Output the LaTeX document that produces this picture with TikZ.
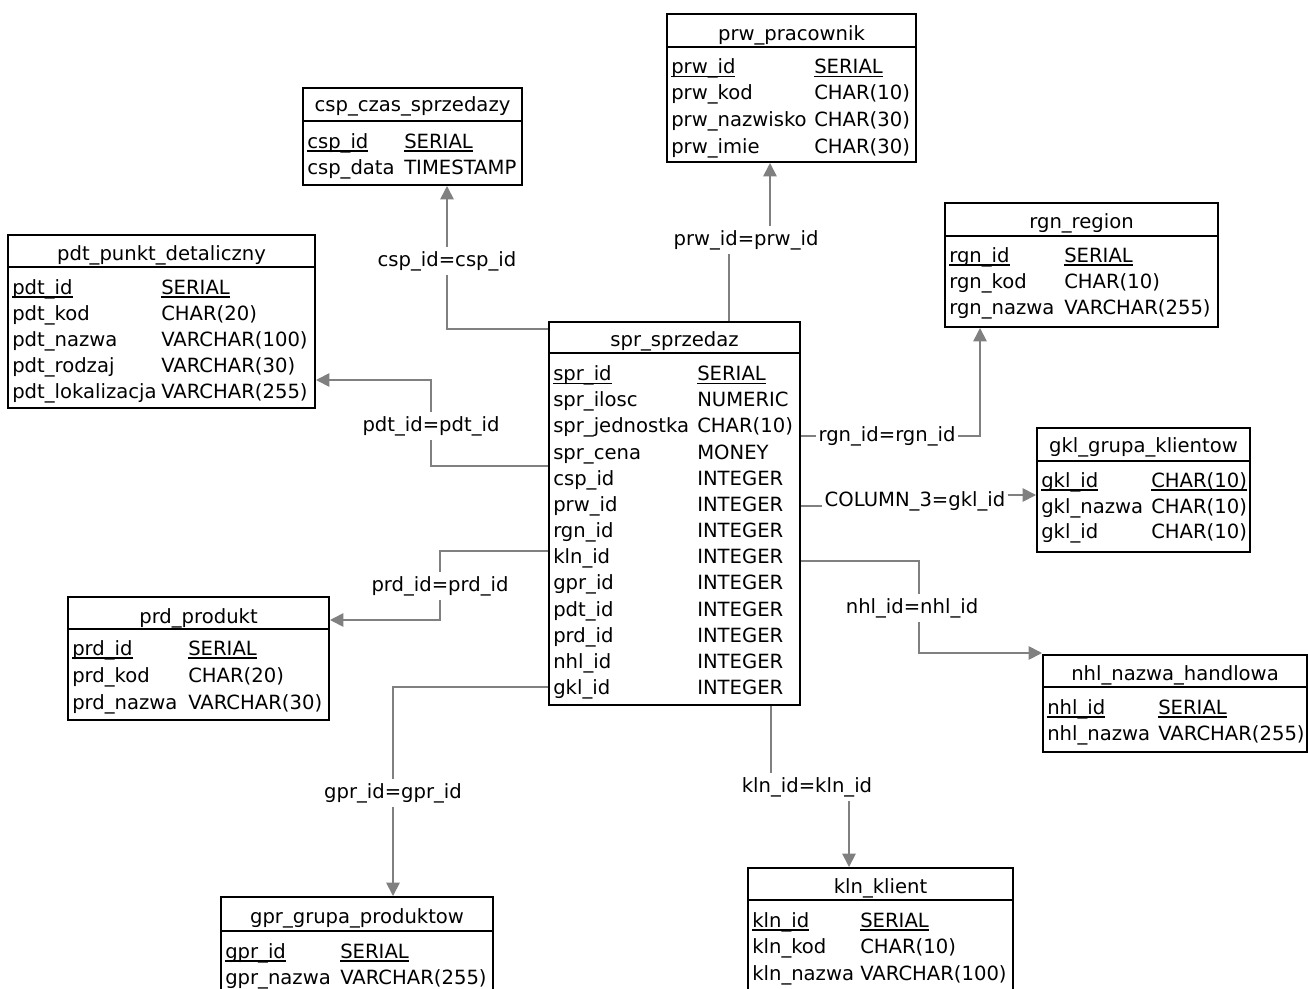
\documentclass[tikz,border=0pt]{standalone}
\usepackage{fontspec}
\setmainfont{DejaVu Sans}
\usetikzlibrary{arrows.meta,fit}
\definecolor{lnk}{RGB}{128,128,128}
\newcommand{\pkey}[1]{\setbox0=\hbox{#1}\rlap{\rule[-2.7pt]{\wd0}{0.9pt}}\box0}
\newcommand{\txtfont}{\fontsize{14.7pt}{17pt}\selectfont}
\newcommand{\frow}[6]{\node[fld] (#1a) at (#3,#2) {#5}; \node[fld] (#1b) at (#4,#2) {#6};}
\tikzset{
  tblbox/.style={draw=black,line width=1.5pt,inner sep=0pt,fill=white},
  ttl/.style={anchor=base,inner sep=0pt,font=\txtfont},
  fld/.style={anchor=base west,inner sep=0pt,font=\txtfont},
  lbl/.style={inner xsep=1.5pt,inner ysep=3pt,font=\txtfont},
  sepline/.style={draw=black,line width=1.5pt},
  link/.style={draw=lnk,line width=1.3pt},
  arr/.style={-{Triangle[length=10pt,width=10pt]},draw=lnk,line width=1.3pt}
}
\begin{document}
\begin{tikzpicture}[x=0.75pt,y=-0.75pt]
\useasboundingbox (0,0) rectangle (1308,988);
\fill[white] (0,0) rectangle (1308,988);
\clip (0,0) rectangle (1308,988);

% ---------- spr_sprzedaz ----------
\node[tblbox,fit={(549,322)(800,705)}] (spr) {};
\node[ttl] (sprT) at (674.5,346) {spr\_sprzedaz};
\draw[sepline] (spr.west |- 0,353) -- (spr.east |- 0,353);
\frow{spr1}{380.5}{553}{697}{\pkey{spr\_id}}{\pkey{SERIAL}}
\frow{spr2}{406.7}{553}{697}{spr\_ilosc}{NUMERIC}
\frow{spr3}{432.8}{553}{697}{spr\_jednostka}{CHAR(10)}
\frow{spr4}{459.0}{553}{697}{spr\_cena}{MONEY}
\frow{spr5}{485.2}{553}{697}{csp\_id}{INTEGER}
\frow{spr6}{511.4}{553}{697}{prw\_id}{INTEGER}
\frow{spr7}{537.5}{553}{697}{rgn\_id}{INTEGER}
\frow{spr8}{563.7}{553}{697}{kln\_id}{INTEGER}
\frow{spr9}{589.9}{553}{697}{gpr\_id}{INTEGER}
\frow{spr10}{616.0}{553}{697}{pdt\_id}{INTEGER}
\frow{spr11}{642.2}{553}{697}{prd\_id}{INTEGER}
\frow{spr12}{668.4}{553}{697}{nhl\_id}{INTEGER}
\frow{spr13}{694.5}{553}{697}{gkl\_id}{INTEGER}

% ---------- csp_czas_sprzedazy ----------
\node[tblbox,fit={(303,88)(522,185)}] (csp) {};
\node[ttl] (cspT) at (412.5,112) {csp\_czas\_sprzedazy};
\draw[sepline] (csp.west |- 0,121) -- (csp.east |- 0,121);
\frow{csp1}{148}{307}{404}{\pkey{csp\_id}}{\pkey{SERIAL}}
\frow{csp2}{174}{307}{404}{csp\_data}{TIMESTAMP}

% ---------- prw_pracownik ----------
\node[tblbox,fit={(667,14)(916,162)}] (prw) {};
\node[ttl] (prwT) at (791.5,40.5) {prw\_pracownik};
\draw[sepline] (prw.west |- 0,47) -- (prw.east |- 0,47);
\frow{prw1}{73.5}{671}{814}{\pkey{prw\_id}}{\pkey{SERIAL}}
\frow{prw2}{100}{671}{814}{prw\_kod}{CHAR(10)}
\frow{prw3}{126.5}{671}{814}{prw\_nazwisko}{CHAR(30)}
\frow{prw4}{153}{671}{814}{prw\_imie}{CHAR(30)}

% ---------- rgn_region ----------
\node[tblbox,fit={(945,203)(1218,327)}] (rgn) {};
\node[ttl] (rgnT) at (1081.5,228) {rgn\_region};
\draw[sepline] (rgn.west |- 0,236) -- (rgn.east |- 0,236);
\frow{rgn1}{262}{949}{1064}{\pkey{rgn\_id}}{\pkey{SERIAL}}
\frow{rgn2}{288}{949}{1064}{rgn\_kod}{CHAR(10)}
\frow{rgn3}{314}{949}{1064}{rgn\_nazwa}{VARCHAR(255)}

% ---------- pdt_punkt_detaliczny ----------
\node[tblbox,fit={(8,235)(315,408)}] (pdt) {};
\node[ttl] (pdtT) at (161.5,260) {pdt\_punkt\_detaliczny};
\draw[sepline] (pdt.west |- 0,267) -- (pdt.east |- 0,267);
\frow{pdt1}{294}{12}{161}{\pkey{pdt\_id}}{\pkey{SERIAL}}
\frow{pdt2}{320}{12}{161}{pdt\_kod}{CHAR(20)}
\frow{pdt3}{346}{12}{161}{pdt\_nazwa}{VARCHAR(100)}
\frow{pdt4}{372}{12}{161}{pdt\_rodzaj}{VARCHAR(30)}
\frow{pdt5}{398}{12}{161}{pdt\_lokalizacja}{VARCHAR(255)}

% ---------- gkl_grupa_klientow ----------
\node[tblbox,fit={(1037,428)(1250,552)}] (gkl) {};
\node[ttl] (gklT) at (1143.5,452.5) {gkl\_grupa\_klientow};
\draw[sepline] (gkl.west |- 0,461) -- (gkl.east |- 0,461);
\frow{gkl1}{487}{1041}{1151}{\pkey{gkl\_id}}{\pkey{CHAR(10)}}
\frow{gkl2}{513}{1041}{1151}{gkl\_nazwa}{CHAR(10)}
\frow{gkl3}{538.5}{1041}{1151}{gkl\_id}{CHAR(10)}

% ---------- prd_produkt ----------
\node[tblbox,fit={(68,597)(329,720)}] (prd) {};
\node[ttl] (prdT) at (198.5,623) {prd\_produkt};
\draw[sepline] (prd.west |- 0,629) -- (prd.east |- 0,629);
\frow{prd1}{655}{72}{188}{\pkey{prd\_id}}{\pkey{SERIAL}}
\frow{prd2}{682}{72}{188}{prd\_kod}{CHAR(20)}
\frow{prd3}{709}{72}{188}{prd\_nazwa}{VARCHAR(30)}

% ---------- nhl_nazwa_handlowa ----------
\node[tblbox,fit={(1043,655)(1307,752)}] (nhl) {};
\node[ttl] (nhlT) at (1175,680) {nhl\_nazwa\_handlowa};
\draw[sepline] (nhl.west |- 0,687) -- (nhl.east |- 0,687);
\frow{nhl1}{714}{1047}{1158}{\pkey{nhl\_id}}{\pkey{SERIAL}}
\frow{nhl2}{740.5}{1047}{1158}{nhl\_nazwa}{VARCHAR(255)}

% ---------- gpr_grupa_produktow ----------
\node[tblbox,fit={(221,897)(493,1005)}] (gpr) {};
\node[ttl] (gprT) at (357,923) {gpr\_grupa\_produktow};
\draw[sepline] (gpr.west |- 0,931) -- (gpr.east |- 0,931);
\frow{gpr1}{958}{225}{340}{\pkey{gpr\_id}}{\pkey{SERIAL}}
\frow{gpr2}{984}{225}{340}{gpr\_nazwa}{VARCHAR(255)}

% ---------- kln_klient ----------
\node[tblbox,fit={(748,868)(1013,1005)}] (kln) {};
\node[ttl] (klnT) at (880.5,893) {kln\_klient};
\draw[sepline] (kln.west |- 0,900) -- (kln.east |- 0,900);
\frow{kln1}{927}{752}{860}{\pkey{kln\_id}}{\pkey{SERIAL}}
\frow{kln2}{953.5}{752}{860}{kln\_kod}{CHAR(10)}
\frow{kln3}{980}{752}{860}{kln\_nazwa}{VARCHAR(100)}

% ---------- connector labels ----------
\node[lbl] (csplab) at (447,261) {csp\_id=csp\_id};
\node[lbl] (prwlab) at (746,240) {prw\_id=prw\_id};
\node[lbl] (pdtlab) at (431,426) {pdt\_id=pdt\_id};
\node[lbl] (rgnlab) at (887,436) {rgn\_id=rgn\_id};
\node[lbl] (gkllab) at (915,501) {COLUMN\_3=gkl\_id};
\node[lbl] (prdlab) at (440,586) {prd\_id=prd\_id};
\node[lbl] (nhllab) at (912,608) {nhl\_id=nhl\_id};
\node[lbl] (gprlab) at (393,793) {gpr\_id=gpr\_id};
\node[lbl] (klnlab) at (807,787) {kln\_id=kln\_id};

% ---------- connectors ----------
% csp
\draw[link] (spr.west |- 0,329) -| (csplab);
\draw[arr] (csplab) -- (csp.south -| csplab);
% prw
\draw[link] (spr.north -| 729,0) -- (prwlab.south -| 729,0);
\draw[arr] (prwlab.north -| 770,0) -- (prw.south -| 770,0);
% pdt
\draw[link] (spr.west |- 0,466) -| (pdtlab);
\draw[arr] (pdtlab) |- (pdt.east |- 0,380);
% rgn
\draw[link] (spr.east |- 0,436) -- (rgnlab);
\draw[arr] (rgnlab) -| (rgn.south -| 980,0);
% gkl
\draw[link] (spr.east |- 0,506) -- (gkllab.west |- 0,506);
\draw[arr] (gkllab.east |- 0,495) -- (gkl.west |- 0,495);
% prd
\draw[link] (spr.west |- 0,551) -| (prdlab);
\draw[arr] (prdlab) |- (prd.east |- 0,620);
% nhl
\draw[link] (spr.east |- 0,561) -| (nhllab.north -| 919,0);
\draw[arr] (nhllab.south -| 919,0) |- (nhl.west |- 0,653);
% gpr
\draw[link] (spr.west |- 0,687) -| (gprlab);
\draw[arr] (gprlab) -- (gpr.north -| gprlab);
% kln
\draw[link] (spr.south -| 771,0) -- (klnlab.north -| 771,0);
\draw[arr] (klnlab.south -| 849,0) -- (kln.north -| 849,0);
\end{tikzpicture}
\end{document}
